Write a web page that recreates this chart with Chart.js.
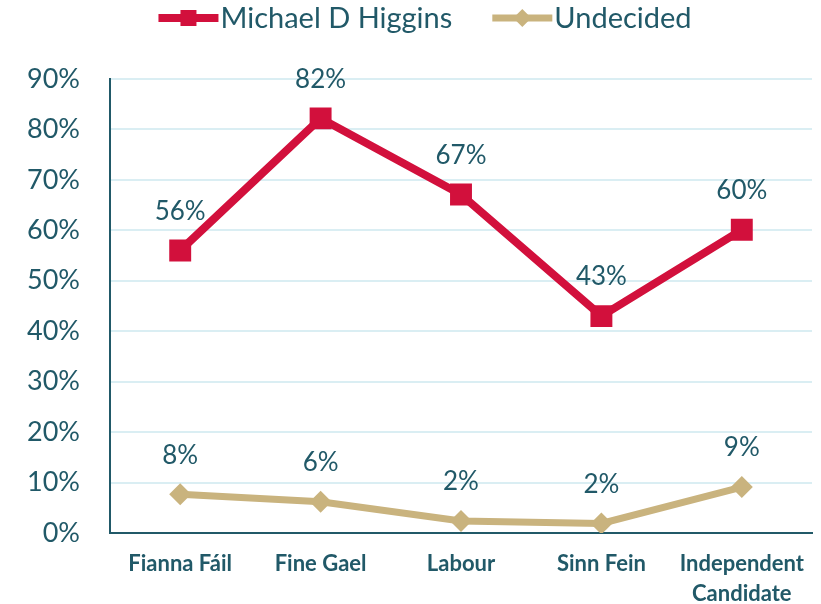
<!DOCTYPE html>
<html>
<head>
<meta charset="utf-8">
<script src="https://cdn.jsdelivr.net/npm/chart.js@4.4.1/dist/chart.umd.min.js"></script>
<style>
  html, body { margin: 0; padding: 0; background: #fff; }
  #wrap { width: 821px; height: 604px; }
</style>
</head>
<body>
<div id="wrap"><canvas id="pollChart" width="821" height="604"></canvas></div>
<script>
// Chart data
const categories = ['Fianna Fáil', 'Fine Gael', 'Labour', 'Sinn Fein', ['Independent', 'Candidate']];
const higginsValues = [56, 82.2, 67.1, 43, 60.1];
const undecidedValues = [7.7, 6.2, 2.4, 1.9, 9.1];
const seriesNames = ['Michael D Higgins', 'Undecided'];
const yMin = 0;
const yMax = 90;
const yStep = 10;

const TEXT = '#215968';
const RED = '#D2103C';
const TAN = '#C9B37E';
const GRID = '#DAEEF3';
const FONT = 'Lato, "Open Sans", sans-serif';

// Value labels above every point
const valueLabels = {
  id: 'valueLabels',
  afterDatasetsDraw(chart) {
    const ctx = chart.ctx;
    ctx.save();
    ctx.fillStyle = TEXT;
    ctx.font = `26px ${FONT}`;
    ctx.textAlign = 'center';
    ctx.textBaseline = 'middle';
    chart.data.datasets.forEach((ds, i) => {
      const meta = chart.getDatasetMeta(i);
      meta.data.forEach((pt, j) => {
        ctx.fillText(Math.round(ds.data[j]) + '%', pt.x, pt.y - 39);
      });
    });
    ctx.restore();
  }
};

// Legend drawn as line + marker like the original
const lineLegend = {
  id: 'lineLegend',
  afterDraw(chart) {
    const ctx = chart.ctx;
    const lineLen = 60;
    const gap = 40;
    ctx.save();
    ctx.font = `29px ${FONT}`;
    const items = chart.data.datasets.map(ds => ({
      ds: ds,
      w: lineLen + 2 + ctx.measureText(ds.label).width
    }));
    const total = items.reduce((a, it) => a + it.w, 0) + gap * (items.length - 1);
    let x = 425 - total / 2;
    const y = 18;
    items.forEach(it => {
      const ds = it.ds;
      ctx.strokeStyle = ds.borderColor;
      ctx.lineWidth = ds.borderWidth;
      ctx.beginPath();
      ctx.moveTo(x, y);
      ctx.lineTo(x + lineLen, y);
      ctx.stroke();
      ctx.fillStyle = ds.borderColor;
      const cx = x + lineLen / 2;
      ctx.beginPath();
      if (ds.pointStyle === 'rect') {
        ctx.rect(cx - 8, y - 8, 16, 16);
      } else {
        ctx.moveTo(cx, y - 9);
        ctx.lineTo(cx + 9, y);
        ctx.lineTo(cx, y + 9);
        ctx.lineTo(cx - 9, y);
        ctx.closePath();
      }
      ctx.fill();
      ctx.fillStyle = TEXT;
      ctx.textAlign = 'left';
      ctx.textBaseline = 'middle';
      ctx.fillText(ds.label, x + lineLen + 2, y + 1);
      x += it.w + gap;
    });
    ctx.restore();
  }
};

const ctx = document.getElementById('pollChart');
new Chart(ctx, {
  type: 'line',
  data: {
    labels: categories,
    datasets: [
      {
        label: seriesNames[0],
        data: higginsValues,
        borderColor: RED,
        backgroundColor: RED,
        borderWidth: 8,
        pointStyle: 'rect',
        pointRadius: 15.5,
        pointBorderWidth: 0,
        tension: 0
      },
      {
        label: seriesNames[1],
        data: undecidedValues,
        borderColor: TAN,
        backgroundColor: TAN,
        borderWidth: 7,
        pointStyle: 'rectRot',
        pointRadius: 11,
        pointBorderWidth: 0,
        tension: 0
      }
    ]
  },
  options: {
    responsive: false,
    animation: false,
    layout: { autoPadding: false, padding: { top: 79, right: 9, left: 0, bottom: 0 } },
    plugins: {
      legend: { display: false },
      tooltip: { enabled: false }
    },
    scales: {
      x: {
        offset: true,
        grid: { display: false, drawTicks: false },
        border: { display: true, color: TEXT, width: 2 },
        ticks: {
          color: TEXT,
          padding: 16,
          maxRotation: 0,
          autoSkip: false,
          font: { family: FONT, size: 22, weight: 'bold', lineHeight: 1.36 }
        },
        afterFit: s => {
          s.height = 71;
          s.paddingLeft = 0;
          s.paddingRight = 0;
        }
      },
      y: {
        min: yMin,
        max: yMax,
        grid: { color: GRID, lineWidth: 2, drawTicks: false },
        border: { display: true, color: TEXT, width: 2 },
        ticks: {
          stepSize: yStep,
          color: TEXT,
          padding: 30,
          font: { family: FONT, size: 27 },
          callback: v => v + '%'
        },
        afterFit: s => { s.width = 110; }
      }
    }
  },
  plugins: [valueLabels, lineLegend]
});
</script>
</body>
</html>
